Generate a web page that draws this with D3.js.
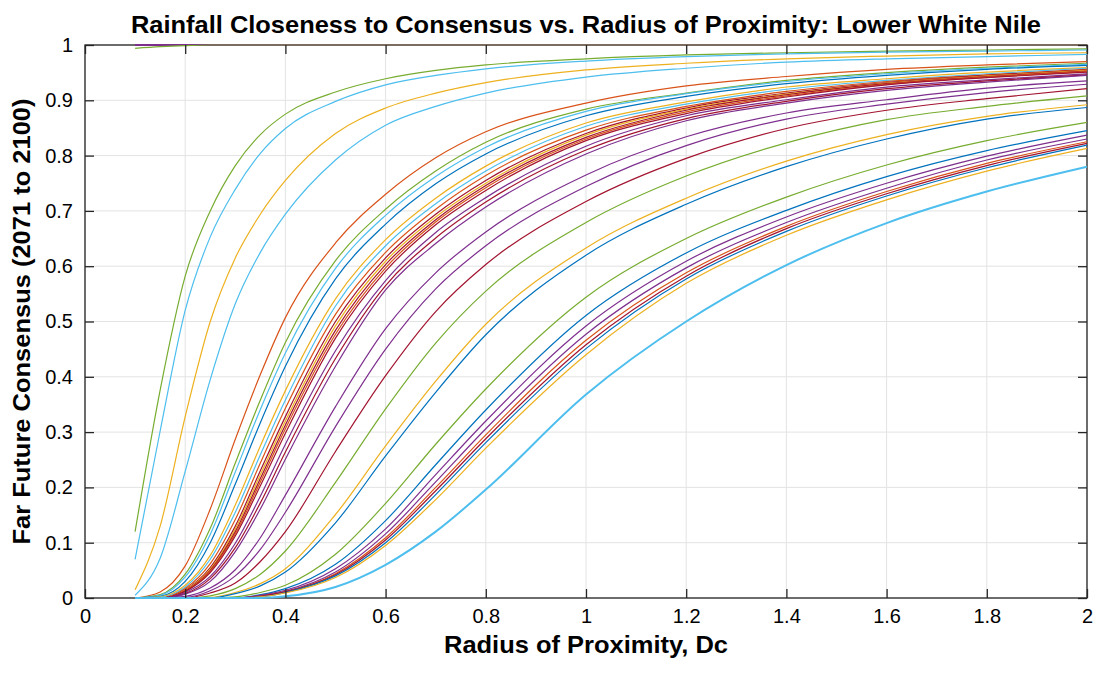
<!DOCTYPE html>
<html>
<head>
<meta charset="utf-8">
<script src="https://cdn.jsdelivr.net/npm/d3@7/dist/d3.min.js"></script>
<style>
  body { margin: 0; background: #fff; }
  svg { display: block; }
  text { font-family: "Liberation Sans", Arial, Helvetica, sans-serif; fill: #000; }
</style>
</head>
<body>
<svg id="chart" width="1100" height="675"></svg>
<script>
// Radius of proximity Dc at which each consensus curve is sampled
const radius = [0.1, 0.15, 0.2, 0.25, 0.3, 0.35, 0.4, 0.5, 0.6, 0.7, 0.8, 1.0, 1.2, 1.4, 1.6, 1.8, 2.0];

const xTicks = [0, 0.2, 0.4, 0.6, 0.8, 1, 1.2, 1.4, 1.6, 1.8, 2];
const yTicks = [0, 0.1, 0.2, 0.3, 0.4, 0.5, 0.6, 0.7, 0.8, 0.9, 1];
const xTickLabels = ["0", "0.2", "0.4", "0.6", "0.8", "1", "1.2", "1.4", "1.6", "1.8", "2"];
const yTickLabels = ["0", "0.1", "0.2", "0.3", "0.4", "0.5", "0.6", "0.7", "0.8", "0.9", "1"];

// Far-future (2071-2100) consensus fraction, one array per model run
const run01 = [1, 1, 1, 1, 1, 1, 1, 1, 1, 1, 1, 1, 1, 1, 1, 1, 1];
const run02 = [0.994, 0.997, 0.999, 1, 1, 1, 1, 1, 1, 1, 1, 1, 1, 1, 1, 1, 1];
const run03 = [0.12, 0.376, 0.582, 0.70, 0.782, 0.838, 0.875, 0.915, 0.939, 0.954, 0.964, 0.975, 0.982, 0.986, 0.989, 0.991, 0.993];
const run04 = [0.07, 0.302, 0.52, 0.653, 0.739, 0.804, 0.849, 0.898, 0.928, 0.945, 0.957, 0.971, 0.979, 0.984, 0.987, 0.989, 0.991];
const run05 = [0.015, 0.13, 0.328, 0.5, 0.615, 0.694, 0.755, 0.84, 0.886, 0.913, 0.932, 0.955, 0.967, 0.975, 0.98, 0.984, 0.986];
const run06 = [0.005, 0.072, 0.229, 0.395, 0.532, 0.625, 0.694, 0.792, 0.855, 0.889, 0.913, 0.942, 0.958, 0.969, 0.975, 0.979, 0.983];
const run07 = [0, 0.011, 0.058, 0.161, 0.287, 0.404, 0.507, 0.642, 0.73, 0.796, 0.843, 0.895, 0.926, 0.943, 0.956, 0.964, 0.97];
const run08 = [0, 0.006, 0.043, 0.126, 0.244, 0.358, 0.462, 0.61, 0.703, 0.772, 0.824, 0.884, 0.913, 0.936, 0.95, 0.96, 0.967];
const run09 = [0, 0.005, 0.038, 0.115, 0.228, 0.341, 0.443, 0.596, 0.692, 0.762, 0.815, 0.88, 0.912, 0.934, 0.948, 0.958, 0.965];
const run10 = [0, 0.003, 0.03, 0.1, 0.206, 0.317, 0.419, 0.577, 0.676, 0.749, 0.803, 0.872, 0.907, 0.93, 0.945, 0.956, 0.963];
const run11 = [0, 0.002, 0.023, 0.077, 0.168, 0.275, 0.375, 0.541, 0.648, 0.723, 0.781, 0.859, 0.897, 0.924, 0.939, 0.951, 0.959];
const run12 = [0, 0.001, 0.02, 0.07, 0.155, 0.259, 0.358, 0.528, 0.637, 0.713, 0.772, 0.853, 0.893, 0.92, 0.936, 0.948, 0.958];
const run13 = [0, 0, 0.017, 0.062, 0.142, 0.244, 0.343, 0.513, 0.625, 0.703, 0.764, 0.846, 0.889, 0.916, 0.934, 0.946, 0.956];
const run14 = [0, 0, 0.015, 0.055, 0.13, 0.23, 0.328, 0.5, 0.615, 0.694, 0.755, 0.84, 0.886, 0.913, 0.932, 0.945, 0.955];
const run15 = [0, 0, 0.014, 0.052, 0.125, 0.223, 0.32, 0.492, 0.609, 0.689, 0.75, 0.837, 0.884, 0.911, 0.931, 0.944, 0.954];
const run16 = [0, 0, 0.013, 0.05, 0.12, 0.216, 0.313, 0.484, 0.603, 0.684, 0.746, 0.833, 0.882, 0.91, 0.93, 0.943, 0.953];
const run17 = [0, 0, 0.012, 0.048, 0.116, 0.21, 0.306, 0.477, 0.597, 0.68, 0.742, 0.83, 0.879, 0.908, 0.929, 0.942, 0.952];
const run18 = [0, 0, 0.012, 0.046, 0.112, 0.203, 0.298, 0.47, 0.591, 0.675, 0.737, 0.827, 0.876, 0.906, 0.928, 0.941, 0.951];
const run19 = [0, 0, 0.01, 0.039, 0.099, 0.184, 0.278, 0.447, 0.574, 0.661, 0.724, 0.817, 0.872, 0.901, 0.924, 0.937, 0.948];
const run20 = [0, 0, 0.008, 0.035, 0.091, 0.172, 0.264, 0.433, 0.565, 0.651, 0.716, 0.81, 0.867, 0.898, 0.921, 0.935, 0.946];
const run21 = [0, 0, 0.007, 0.03, 0.084, 0.161, 0.251, 0.419, 0.557, 0.641, 0.707, 0.803, 0.863, 0.895, 0.918, 0.933, 0.945];
const run22 = [0, 0, 0.003, 0.018, 0.051, 0.109, 0.186, 0.346, 0.487, 0.588, 0.662, 0.765, 0.834, 0.877, 0.901, 0.922, 0.935];
const run23 = [0, 0, 0.001, 0.013, 0.04, 0.088, 0.155, 0.31, 0.45, 0.559, 0.637, 0.744, 0.818, 0.866, 0.893, 0.914, 0.929];
const run24 = [0, 0, 0, 0.009, 0.027, 0.066, 0.12, 0.265, 0.402, 0.518, 0.603, 0.717, 0.795, 0.849, 0.882, 0.903, 0.921];
const run25 = [0, 0, 0, 0.004, 0.017, 0.043, 0.085, 0.209, 0.342, 0.461, 0.555, 0.679, 0.763, 0.823, 0.865, 0.889, 0.908];
const run26 = [0, 0, 0, 0.001, 0.01, 0.026, 0.053, 0.151, 0.275, 0.392, 0.495, 0.633, 0.723, 0.79, 0.838, 0.871, 0.892];
const run27 = [0, 0, 0, 0, 0.008, 0.022, 0.047, 0.136, 0.257, 0.372, 0.476, 0.62, 0.712, 0.78, 0.83, 0.866, 0.887];
const run28 = [0, 0, 0, 0, 0.002, 0.01, 0.023, 0.079, 0.171, 0.278, 0.378, 0.544, 0.65, 0.725, 0.783, 0.827, 0.86];
const run29 = [0, 0, 0, 0, 0, 0.006, 0.017, 0.061, 0.14, 0.241, 0.34, 0.511, 0.624, 0.701, 0.762, 0.809, 0.845];
const run30 = [0, 0, 0, 0, 0, 0.005, 0.014, 0.053, 0.125, 0.223, 0.32, 0.492, 0.609, 0.689, 0.75, 0.799, 0.837];
const run31 = [0, 0, 0, 0, 0, 0.004, 0.012, 0.047, 0.116, 0.21, 0.306, 0.477, 0.597, 0.679, 0.741, 0.792, 0.83];
const run32 = [0, 0, 0, 0, 0, 0.003, 0.011, 0.044, 0.109, 0.2, 0.295, 0.466, 0.588, 0.672, 0.735, 0.786, 0.825];
const run33 = [0, 0, 0, 0, 0, 0.003, 0.011, 0.042, 0.105, 0.194, 0.288, 0.458, 0.582, 0.668, 0.731, 0.782, 0.822];
const run34 = [0, 0, 0, 0, 0, 0.002, 0.01, 0.04, 0.1, 0.187, 0.281, 0.451, 0.577, 0.663, 0.727, 0.778, 0.819];
const run35 = [0, 0, 0, 0, 0, 0.002, 0.009, 0.037, 0.095, 0.178, 0.271, 0.44, 0.569, 0.656, 0.72, 0.772, 0.813];
const run36 = [0, 0, 0, 0, 0, 0, 0.003, 0.02, 0.06, 0.12, 0.196, 0.368, 0.5, 0.602, 0.678, 0.735, 0.78];

const runs = [run01, run02, run03, run04, run05, run06, run07, run08, run09, run10, run11, run12,
              run13, run14, run15, run16, run17, run18, run19, run20, run21, run22, run23, run24,
              run25, run26, run27, run28, run29, run30, run31, run32, run33, run34, run35, run36];

// Line colour of each run (MATLAB default colour order)
const runColors = ["purple", "green", "green", "cyan", "yellow", "cyan", "orange", "green", "cyan", "blue", "yellow", "cyan",
                   "orange", "darkred", "yellow", "darkred", "orange", "darkred", "purple", "darkred", "purple", "purple", "purple", "darkred",
                   "green", "yellow", "blue", "green", "blue", "purple", "purple", "orange", "darkred", "blue", "yellow", "cyan"];

const palette = {
  blue: "#0072BD", orange: "#D95319", yellow: "#EDB120", purple: "#7E2F8E",
  green: "#77AC30", cyan: "#4DBEEE", darkred: "#A2142F"
};

const svg = d3.select("#chart");
const plotLeft = 85, plotRight = 1087, plotTop = 45, plotBottom = 598;
const x = d3.scaleLinear().domain([0, 2]).range([plotLeft, plotRight]);
const y = d3.scaleLinear().domain([0, 1]).range([plotBottom, plotTop]);

// grid
const grid = svg.append("g").attr("stroke", "#e3e3e3").attr("stroke-width", 1);
grid.selectAll("line.vx").data(xTicks).join("line").attr("class", "vx")
  .attr("x1", d => x(d)).attr("x2", d => x(d)).attr("y1", plotTop).attr("y2", plotBottom);
grid.selectAll("line.hy").data(yTicks).join("line").attr("class", "hy")
  .attr("x1", plotLeft).attr("x2", plotRight).attr("y1", d => y(d)).attr("y2", d => y(d));

// axes box
svg.append("rect").attr("x", plotLeft).attr("y", plotTop)
  .attr("width", plotRight - plotLeft).attr("height", plotBottom - plotTop)
  .attr("fill", "none").attr("stroke", "#262626").attr("stroke-width", 1.3);

// curves (the run that sits at full consensus is drawn a little heavier so it shows over the frame)
const line = d3.line().x((d, i) => x(radius[i])).y(d => y(d)).curve(d3.curveMonotoneX);
svg.append("g").attr("fill", "none").selectAll("path").data(runs).join("path")
  .attr("d", line)
  .attr("stroke", (d, i) => palette[runColors[i]])
  .attr("stroke-width", (d, i) => i === runs.length - 1 ? 2 : (i === 0 ? 1.8 : 1.2));

// ticks (inward on all four sides) and labels
const tickLen = 9;
function styleAxis(g) {
  g.select(".domain").remove();
  g.selectAll(".tick line").attr("stroke", "#262626").attr("stroke-width", 1.3);
  g.selectAll(".tick text").attr("font-size", 20).attr("fill", "#000")
    .style("font-family", '"Liberation Sans", Arial, sans-serif');
}
svg.append("g").attr("transform", `translate(0,${plotBottom})`)
  .call(d3.axisBottom(x).tickValues(xTicks).tickFormat((d, i) => xTickLabels[i])
    .tickSizeInner(-tickLen).tickSizeOuter(0).tickPadding(11))
  .call(styleAxis);
svg.append("g").attr("transform", `translate(0,${plotTop})`)
  .call(d3.axisTop(x).tickValues(xTicks).tickFormat("").tickSizeInner(-tickLen).tickSizeOuter(0))
  .call(styleAxis);
svg.append("g").attr("transform", `translate(${plotLeft},0)`)
  .call(d3.axisLeft(y).tickValues(yTicks).tickFormat((d, i) => yTickLabels[i])
    .tickSizeInner(-tickLen).tickSizeOuter(0).tickPadding(12))
  .call(styleAxis);
svg.append("g").attr("transform", `translate(${plotRight},0)`)
  .call(d3.axisRight(y).tickValues(yTicks).tickFormat("").tickSizeInner(-tickLen).tickSizeOuter(0))
  .call(styleAxis);

// title and axis labels
svg.append("text").attr("x", (plotLeft + plotRight) / 2).attr("y", 33)
  .attr("text-anchor", "middle").attr("font-size", 24).attr("font-weight", "bold")
  .attr("textLength", 910).attr("lengthAdjust", "spacingAndGlyphs")
  .text("Rainfall Closeness to Consensus vs. Radius of Proximity: Lower White Nile");
svg.append("text").attr("x", (plotLeft + plotRight) / 2).attr("y", 653)
  .attr("text-anchor", "middle").attr("font-size", 24).attr("font-weight", "bold")
  .attr("textLength", 284).attr("lengthAdjust", "spacingAndGlyphs")
  .text("Radius of Proximity, Dc");
svg.append("text").attr("transform", `translate(30,${(plotTop + plotBottom) / 2}) rotate(-90)`)
  .attr("text-anchor", "middle").attr("font-size", 24).attr("font-weight", "bold")
  .attr("textLength", 446).attr("lengthAdjust", "spacingAndGlyphs")
  .text("Far Future Consensus (2071 to 2100)");
</script>
</body>
</html>
